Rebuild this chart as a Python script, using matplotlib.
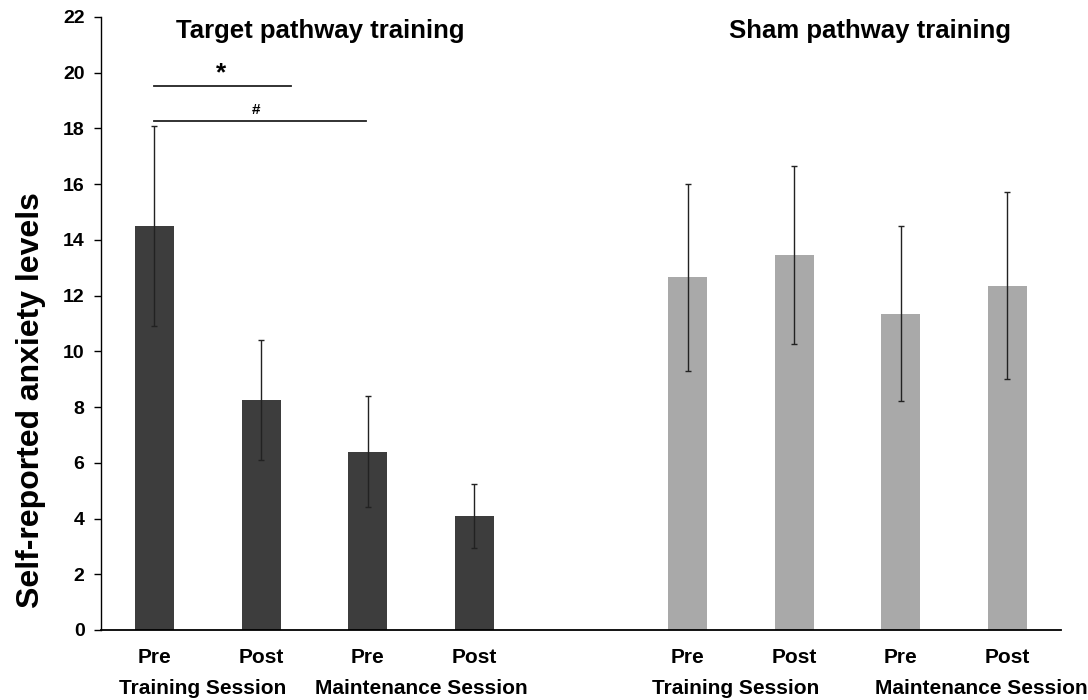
import numpy as np
import matplotlib.pyplot as plt

plt.rcParams['font.family'] = ['Liberation Sans', 'DejaVu Sans']
plt.rcParams['font.weight'] = 'bold'

# Mean anxiety scores and SDs per session
sessions = ['Pre', 'Post', 'Pre', 'Post']
group_labels = ['Training Session', 'Maintenance Session']

target_mean = [14.5, 8.25, 6.4, 4.1]
target_err = [3.6, 2.15, 2.0, 1.15]

sham_mean = [12.65, 13.45, 11.35, 12.35]
sham_err = [3.35, 3.2, 3.15, 3.35]

target_x = np.arange(4)
sham_x = np.arange(4) + 5

fig = plt.figure(figsize=(10.88, 7), dpi=100)
ax = fig.add_axes([0.093, 0.1, 0.882, 0.876])

width = 0.365
ax.bar(target_x, target_mean, width, color='#3d3d3d')
ax.bar(sham_x, sham_mean, width, color='#a9a9a9')
ax.errorbar(target_x, target_mean, yerr=target_err, fmt='none',
            ecolor='#222222', elinewidth=1.0, capsize=2, capthick=1.0)
ax.errorbar(sham_x, sham_mean, yerr=sham_err, fmt='none',
            ecolor='#222222', elinewidth=1.0, capsize=2, capthick=1.0)

ax.set_xlim(-0.5, 8.5)
ax.set_ylim(0, 22)
ax.set_yticks(np.arange(0, 23, 2))
ax.set_xticks([])
ax.spines['top'].set_visible(False)
ax.spines['right'].set_visible(False)
ax.spines['left'].set_linewidth(1.0)
ax.spines['bottom'].set_linewidth(1.3)
ax.tick_params(axis='y', labelsize=14, length=5, width=1.0, pad=7)
for lbl in ax.get_yticklabels():
    lbl.set_fontweight('bold')

ax.set_ylabel('Self-reported anxiety levels', fontsize=23, fontweight='bold')
ax.yaxis.set_label_coords(-0.058, 0.375)

# Session tick labels below the axis
for xs in (target_x, sham_x):
    for x, s in zip(xs, sessions):
        ax.text(x, -0.97, s, ha='center', va='center', fontsize=15, fontweight='bold')
group_pos = [0.45, 2.5, 5.45, 7.75]
for x, g in zip(group_pos, group_labels * 2):
    ax.text(x, -2.1, g, ha='center', va='center', fontsize=15, fontweight='bold')

ax.text(1.55, 21.5, 'Target pathway training', ha='center', va='center',
        fontsize=18.5, fontweight='bold')
ax.text(6.71, 21.5, 'Sham pathway training', ha='center', va='center',
        fontsize=18.5, fontweight='bold')

# Significance brackets
ax.plot([0, 1.28], [19.5, 19.5], color='#222222', lw=1.3)
ax.text(0.62, 19.55, '*', ha='center', va='bottom', fontsize=19, fontweight='bold')
ax.plot([0, 1.98], [18.25, 18.25], color='#222222', lw=1.3)
ax.text(0.95, 18.4, '#', ha='center', va='bottom', fontsize=11, fontweight='bold')

fig.savefig('out.png', dpi=100)
